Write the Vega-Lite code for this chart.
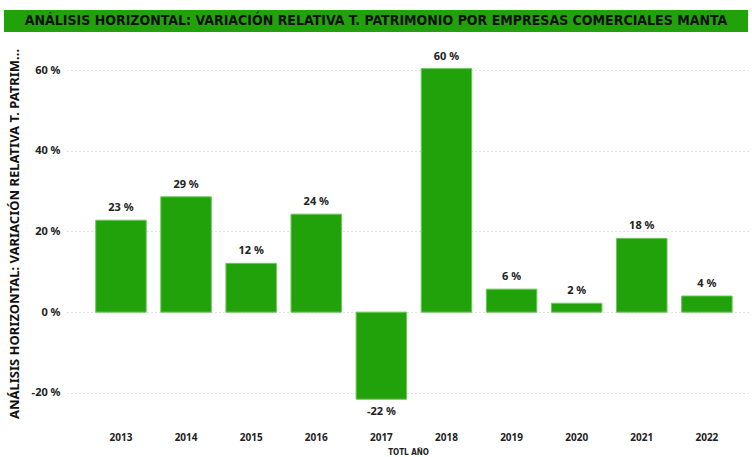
{
  "$schema": "https://vega.github.io/schema/vega-lite/v6.json",
  "padding": {"left": 4, "top": 10, "right": 0, "bottom": 0},
  "background": "white",
  "spacing": 14,
  "config": {"view": {"stroke": null}, "font": "Noto Sans"},
  "datasets": {
    "patrimonio": [
      {"year": "2013", "v": 0.228},
      {"year": "2014", "v": 0.286},
      {"year": "2015", "v": 0.121},
      {"year": "2016", "v": 0.243},
      {"year": "2017", "v": -0.216},
      {"year": "2018", "v": 0.604},
      {"year": "2019", "v": 0.057},
      {"year": "2020", "v": 0.022},
      {"year": "2021", "v": 0.183},
      {"year": "2022", "v": 0.040}
    ]
  },
  "vconcat": [
    {
      "width": 744,
      "height": 22,
      "view": {"fill": "#22A20A", "stroke": null},
      "data": {"values": [{"t": "ANÁLISIS HORIZONTAL: VARIACIÓN RELATIVA T. PATRIMONIO POR EMPRESAS COMERCIALES MANTA"}]},
      "mark": {"type": "text", "font": "DejaVu Sans Condensed", "fontWeight": "bold", "fontSize": 14, "color": "#111111", "align": "center", "baseline": "middle"},
      "encoding": {"text": {"field": "t"}}
    },
    {
      "spacing": 0,
      "hconcat": [
        {
          "width": 63,
          "height": 375,
          "data": {"name": "patrimonio"},
          "mark": {"type": "point", "opacity": 0},
          "encoding": {
            "y": {
              "field": "v", "type": "quantitative",
              "scale": {"domain": [-0.27, 0.66], "nice": false, "zero": true},
              "axis": {"offset": -63, "values": [-0.2, 0, 0.2, 0.4, 0.6], "labelExpr": "round(datum.value*100) + ' %'", "ticks": false, "domain": false, "grid": false, "labelPadding": 7, "labelFont": "Noto Sans", "labelFontWeight": "bold", "labelFontSize": 11, "labelColor": "#222222", "title": "ANÁLISIS HORIZONTAL: VARIACIÓN RELATIVA T. PATRIM...", "titleFont": "Noto Sans", "titleFontSize": 13, "titleFontWeight": "bold", "titleColor": "#111111", "titlePadding": 10}
            }
          }
        },
        {
          "width": 682,
          "height": 375,
          "data": {"name": "patrimonio"},
          "transform": [{"calculate": "round(datum.v*100) + ' %'", "as": "lbl"}],
          "encoding": {
            "x": {
              "field": "year", "type": "nominal", "sort": null,
              "scale": {"paddingInner": 0.224, "paddingOuter": 0.35, "align": 0.63},
              "axis": {"labelAngle": 0, "ticks": false, "domain": false, "grid": false, "labelPadding": 11, "labelFont": "Noto Sans", "labelFontWeight": "bold", "labelFontSize": 10, "labelColor": "#222222", "title": "TOTL AÑO", "titleFont": "DejaVu Sans Condensed", "titleFontSize": 8, "titleFontWeight": "bold", "titleColor": "#222222", "titlePadding": 6}
            },
            "y": {
              "field": "v", "type": "quantitative",
              "scale": {"domain": [-0.27, 0.66], "nice": false, "zero": true},
              "axis": {"values": [-0.2, 0, 0.2, 0.4, 0.6], "labels": false, "ticks": false, "domain": false, "grid": true, "gridDash": [1, 3], "gridColor": "#c4c4c4", "gridWidth": 1, "title": null}
            }
          },
          "layer": [
            {"mark": {"type": "bar", "color": "#22A20A", "stroke": "#6cc85c", "strokeWidth": 1}},
            {"mark": {"type": "text", "font": "Noto Sans", "fontWeight": "bold", "fontSize": 11, "color": "#222222",
                      "baseline": {"expr": "datum.v < 0 ? 'top' : 'bottom'"},
                      "dy": {"expr": "datum.v < 0 ? 7 : -7"}},
             "encoding": {"text": {"field": "lbl"}}}
          ]
        }
      ]
    }
  ]
}
